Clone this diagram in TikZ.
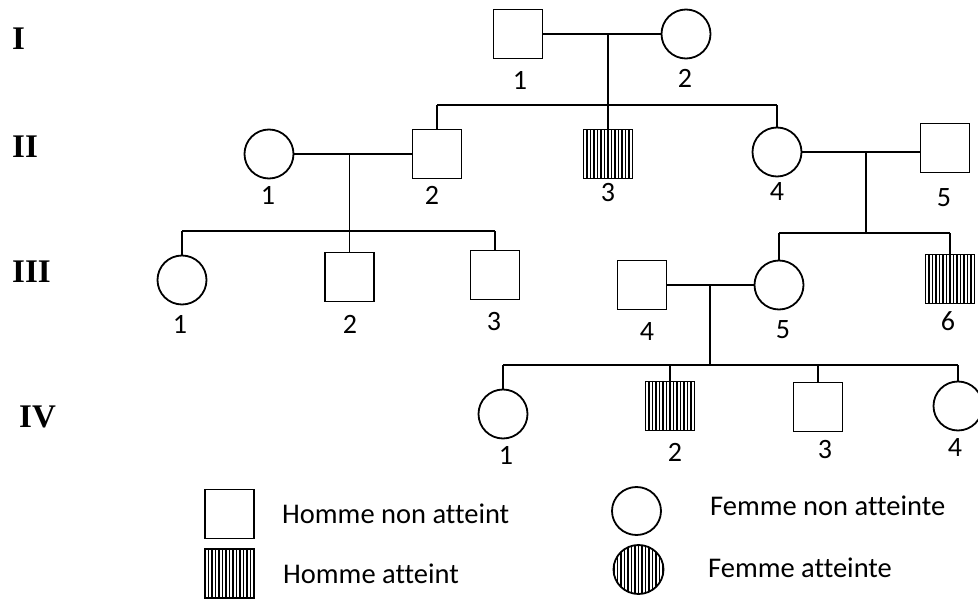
\documentclass[tikz,border=0pt]{standalone}
\usepackage{fontspec}
\setmainfont[Ligatures=NoCommon]{Carlito}
\newfontfamily\genfont{Liberation Serif}
\usetikzlibrary{shapes.geometric}
\begin{document}
\begin{tikzpicture}[x=1pt,y=-1pt,
  lw/.style={line width=1.8pt},
  male/.style={draw,line width=1.8pt,rectangle,minimum size=49pt,inner sep=0pt},
  female/.style={draw,line width=1.8pt,circle,minimum size=49pt,inner sep=0pt},
  femaleleg/.style={draw,line width=1.8pt,ellipse,inner sep=0pt},
  affected/.style={path picture={
    \foreach \k in {-35,-31.5,...,35}
      \draw[line width=1.7pt] ([xshift=\k pt]path picture bounding box.north)
        -- ([xshift=\k pt]path picture bounding box.south);}},
  num/.style={font=\fontsize{28}{28}\selectfont,inner sep=0pt},
  genlabel/.style={font=\genfont\bfseries\fontsize{33}{33}\selectfont,anchor=west,inner sep=0pt},
  legtext/.style={font=\fontsize{28.5}{28.5}\selectfont,anchor=base west,inner sep=0pt}
]
\useasboundingbox (0,0) rectangle (978,599);

% generation numerals
\node[genlabel] (gI)   at (12,39)  {I};
\node[genlabel] (gII)  at (12,147) {II};
\node[genlabel] (gIII) at (12,272) {III};
\node[genlabel] (gIV)  at (19,417) {IV};

% generation I
\node[male]   (I1) at (518,34) {};
\node[female] (I2) at (686,34) {};
\node[num] (nI1) at (520,80) {1};
\node[num] (nI2) at (685,78) {2};

% generation II
\node[female]          (II1) at (269,154) {};
\node[male]            (II2) at (437,154) {};
\node[male,affected]   (II3) at (608,154) {};
\node[female]          (II4) at (777,152) {};
\node[male]            (II5) at (945,148) {};
\node[num] (nII1) at (268,195) {1};
\node[num] (nII2) at (432,195) {2};
\node[num] (nII3) at (608,193) {3};
\node[num] (nII4) at (777,192) {4};
\node[num] (nII5) at (944,198) {5};

% generation III
\node[female]        (III1) at (182,280) {};
\node[male]          (III2) at (349.5,277) {};
\node[male]          (III3) at (495,275) {};
\node[male]          (III4) at (642,285) {};
\node[female]        (III5) at (779,285) {};
\node[male,affected] (III6) at (950,279) {};
\node[num] (nIII1) at (180,324) {1};
\node[num] (nIII2) at (350,324) {2};
\node[num] (nIII3) at (494,322) {3};
\node[num] (nIII4) at (647,332) {4};
\node[num] (nIII5) at (783,330) {5};
\node[num] (nIII6) at (948,321) {6};

% generation IV
\node[female]        (IV1) at (503,414) {};
\node[male,affected] (IV2) at (670,406) {};
\node[male]          (IV3) at (818,407) {};
\node[female]        (IV4) at (958,406) {};
\node[num] (nIV1) at (506,455) {1};
\node[num] (nIV2) at (675,452) {2};
\node[num] (nIV3) at (825,450) {3};
\node[num] (nIV4) at (955,448) {4};

% couples and their descent lines
\coordinate (m1) at (608,34);
\coordinate (s1) at (0,105);
\draw[lw] (I1) -- (I2);
\draw[lw] (m1) -- (II3.north);
\draw[lw] (II2.north |- s1) -- (II4.north |- s1);
\draw[lw] (II2.north) -- (II2.north |- s1);
\draw[lw] (II4.north) -- (II4.north |- s1);

\coordinate (m2) at (349.5,154);
\coordinate (s2) at (0,231);
\draw[lw] (II1) -- (II2);
\draw[lw] (m2) -- (III2.north);
\draw[lw] (III1.north |- s2) -- (III3.north |- s2);
\draw[lw] (III1.north) -- (III1.north |- s2);
\draw[lw] (III3.north) -- (III3.north |- s2);

\coordinate (m3) at (866,152);
\coordinate (s3) at (0,233);
\draw[lw] (II4.east) -- (II4.east -| II5.west);
\draw[lw] (m3) -- (m3 |- s3);
\draw[lw] (III5.north |- s3) -- (III6.north |- s3);
\draw[lw] (III5.north) -- (III5.north |- s3);
\draw[lw] (III6.north) -- (III6.north |- s3);

\coordinate (m4) at (710,285);
\coordinate (s4) at (0,365);
\draw[lw] (III4) -- (III5);
\draw[lw] (m4) -- (m4 |- s4);
\draw[lw] (IV1.north |- s4) -- (IV4.north |- s4);
\foreach \c in {IV1,IV2,IV3,IV4}
  \draw[lw] (\c.north) -- (\c.north |- s4);

% key
\node[male]          (kmale)  at (229.5,514)   {};
\node[male,affected] (kmaleA) at (229.5,573.5) {};
\node[femaleleg,minimum width=49pt,minimum height=48pt] (kfem) at (636.5,511) {};
\node[femaleleg,affected,minimum width=50pt,minimum height=49pt] (kfemA) at (638.5,569.5) {};
\node[legtext] (tmale)  at (282,523) {Homme non atteint};
\node[legtext] (tmaleA) at (283,583) {Homme atteint};
\node[legtext] (tfem)   at (710,515) {Femme non atteinte};
\node[legtext] (tfemA)  at (708,577) {Femme atteinte};
\end{tikzpicture}
\end{document}
